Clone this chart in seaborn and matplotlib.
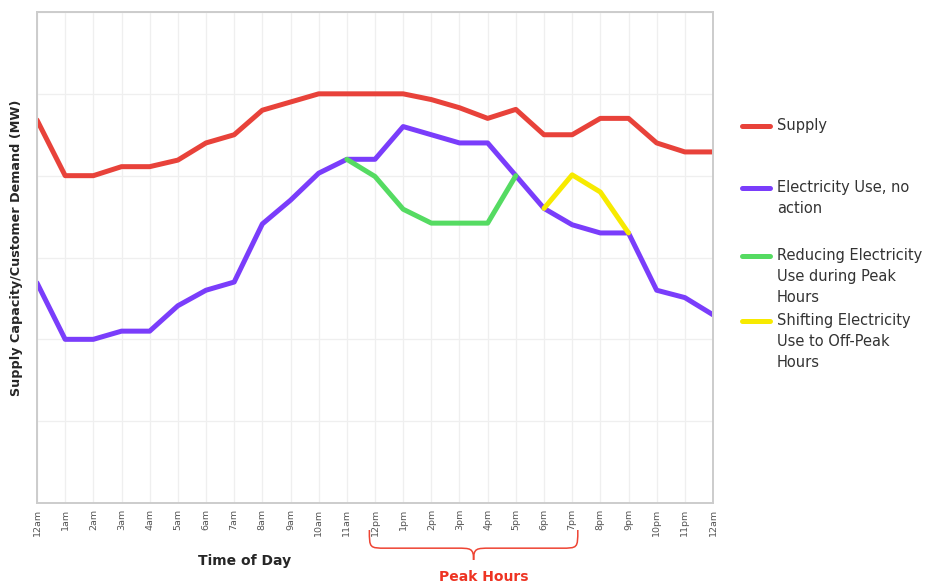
import numpy as np
import pandas as pd
import seaborn as sns
import matplotlib.pyplot as plt
from matplotlib.path import Path
from matplotlib.patches import PathPatch
from matplotlib.lines import Line2D
import matplotlib.transforms as mtrans

hour_labels = ['12am', '1am', '2am', '3am', '4am', '5am', '6am', '7am', '8am', '9am',
               '10am', '11am', '12pm', '1pm', '2pm', '3pm', '4pm', '5pm', '6pm', '7pm',
               '8pm', '9pm', '10pm', '11pm', '12am']

supply = [468, 400, 400, 411, 411, 419, 440, 450, 480, 490, 500, 500, 500,
          500, 493, 483, 470, 481, 450, 450, 470, 470, 440, 429, 429]
use_no_action = [269, 200, 200, 210, 210, 241, 260, 270, 341, 370, 403, 420, 420,
                 460, 450, 440, 440, 400, 360, 340, 330, 330, 260, 251, 230]
# peak reduction runs 11am..5pm, shifting runs 6pm..9pm
reduce_hours = [11, 12, 13, 14, 15, 16, 17]
reduce_vals = [420, 399, 359, 342, 342, 342, 400]
shift_hours = [18, 19, 20, 21]
shift_vals = [360, 401, 380, 330]

names = ['Supply', 'Electricity Use, no\naction',
         'Reducing Electricity\nUse during Peak\nHours',
         'Shifting Electricity\nUse to Off-Peak\nHours']
colors = ['#e8423a', '#7a3dfb', '#55db62', '#f7ea00']

hours = list(range(len(hour_labels)))
df = pd.concat([
    pd.DataFrame({'hour': hours, 'mw': supply, 'series': names[0]}),
    pd.DataFrame({'hour': hours, 'mw': use_no_action, 'series': names[1]}),
    pd.DataFrame({'hour': reduce_hours, 'mw': reduce_vals, 'series': names[2]}),
    pd.DataFrame({'hour': shift_hours, 'mw': shift_vals, 'series': names[3]}),
])

sns.set_style('white')
plt.rcParams['font.family'] = ['DejaVu Sans']

fig = plt.figure(figsize=(9.47, 5.86), dpi=100)
ax = fig.add_axes([37 / 947, 1 - 503 / 586, 676 / 947, 491 / 586])

for name, col in zip(names, colors):
    sub = df[df['series'] == name]
    sns.lineplot(data=sub, x='hour', y='mw', color=col, linewidth=3.6,
                 ax=ax, legend=False)

ax.set_xlim(0, 24)
ax.set_ylim(0, 600)
ax.set_xticks(hours)
ax.set_xticklabels(hour_labels, rotation=90, fontsize=6.8, color='#555555')
ax.set_yticks(np.arange(0, 601, 100))
ax.set_yticklabels([])
ax.tick_params(axis='x', length=0, pad=4)
ax.tick_params(axis='y', length=0)
ax.grid(True, color='#efefef', linewidth=0.9)
ax.set_axisbelow(True)
for sp in ax.spines.values():
    sp.set_color('#cccccc')
    sp.set_linewidth(1.4)

ax.set_xlabel('')
ax.set_ylabel('Supply Capacity/Customer Demand (MW)', fontsize=9.2,
              fontweight='bold')
ax.yaxis.set_label_coords(-0.02, 0.52)
fig.text(245 / 947, 1 - 561 / 586, 'Time of Day', fontsize=10, fontweight='bold',
         ha='center', va='center')

# peak hours brace under the x axis
trans = mtrans.blended_transform_factory(ax.transData, ax.transAxes)
x0, x1 = 11.8, 19.2
xm = (x0 + x1) / 2
yt, yb, yp = -0.055, -0.092, -0.116
verts = [(x0, yt),
         (x0, yb), (x0, yb), (x0 + 0.6, yb),
         (xm - 0.6, yb),
         (xm - 0.1, yb), (xm, yb), (xm, yp),
         (xm, yb), (xm + 0.1, yb), (xm + 0.6, yb),
         (x1 - 0.6, yb),
         (x1, yb), (x1, yb), (x1, yt)]
codes = [Path.MOVETO,
         Path.CURVE4, Path.CURVE4, Path.CURVE4,
         Path.LINETO,
         Path.CURVE4, Path.CURVE4, Path.CURVE4,
         Path.CURVE4, Path.CURVE4, Path.CURVE4,
         Path.LINETO,
         Path.CURVE4, Path.CURVE4, Path.CURVE4]
brace = PathPatch(Path(verts, codes), facecolor='none', edgecolor='#ee4433',
                  linewidth=1.1, transform=trans, clip_on=False)
ax.add_patch(brace)
fig.text(484 / 947, 1 - 577 / 586, 'Peak Hours', fontsize=10, fontweight='bold',
         color='#ee3322', ha='center', va='center')

# legend, handle aligned with first text line
leg_y = [126, 188, 256, 321]
for name, col, yy in zip(names, colors, leg_y):
    fy = 1 - yy / 586
    fig.add_artist(Line2D([742 / 947, 770 / 947], [fy, fy], color=col,
                          linewidth=3.6, transform=fig.transFigure))
    fig.text(777 / 947, fy + 8 / 586, name, fontsize=10.5, color='#333333',
             ha='left', va='top', linespacing=1.5)

fig.savefig('out.png', dpi=100)
